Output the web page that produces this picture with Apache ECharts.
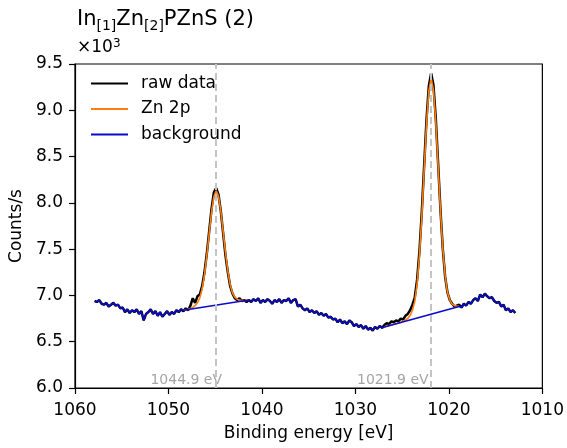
<!DOCTYPE html>
<html><head><meta charset="utf-8">
<script src="https://cdn.jsdelivr.net/npm/echarts@6/dist/echarts.min.js"></script>
<style>html,body{margin:0;padding:0;background:#fff}#c{width:567px;height:448px}</style>
</head><body><div id="c"></div>
<script>
// ---- data (counts in units of 10^3 counts/s) ----
const energyStart = 1057.9;   // eV, first raw sample
const energyStep = 0.25;      // eV between samples (decreasing)
const rawCounts = [
  6.94, 6.93, 6.95, 6.91, 6.90, 6.92, 6.88, 6.90, 6.92, 6.89,
  6.90, 6.86, 6.87, 6.82, 6.85, 6.81, 6.84, 6.82, 6.85, 6.80,
  6.83, 6.73, 6.80, 6.82, 6.85, 6.80, 6.83, 6.78, 6.82, 6.77,
  6.80, 6.83, 6.79, 6.82, 6.80, 6.84, 6.82, 6.85,
  6.83, 6.86, 6.84, 6.89, 6.97, 6.92, 6.99, 7.01, 7.10, 7.25,
  7.45, 7.69, 7.93, 8.11, 8.16, 8.09, 7.91, 7.67, 7.43, 7.25,
  7.10, 7.02, 6.97, 6.95, 6.97, 6.94, 6.95, 6.93, 6.95,
  6.93, 6.96, 6.94, 6.97, 6.92, 6.95, 6.93, 6.96, 6.94, 6.91,
  6.95, 6.93, 6.96, 6.92, 6.95, 6.94, 6.97, 6.92, 6.95, 6.96,
  6.88, 6.90, 6.86, 6.84, 6.86, 6.82, 6.84, 6.81, 6.83, 6.79,
  6.81, 6.78, 6.80, 6.76, 6.77, 6.74, 6.75, 6.71, 6.74, 6.70,
  6.72, 6.69, 6.73, 6.71, 6.67, 6.69, 6.66, 6.68, 6.64, 6.67,
  6.63, 6.65, 6.62, 6.66, 6.64, 6.67, 6.65,
  6.68, 6.70, 6.69, 6.72, 6.71, 6.73, 6.72, 6.75, 6.74, 6.78,
  6.80, 6.84, 6.90, 6.98, 7.17, 7.48, 7.90, 8.40, 8.89, 9.26,
  9.40, 9.27, 8.91, 8.42, 7.92, 7.50, 7.20, 7.03, 6.95, 6.91,
  6.88, 6.89, 6.90,
  6.87, 6.91, 6.89, 6.93, 6.91, 6.95, 6.97, 6.94, 7.01, 6.98,
  7.02, 6.99, 6.97, 6.98, 6.94, 6.92, 6.93, 6.88, 6.90, 6.84,
  6.86, 6.82, 6.84, 6.81
];
const fit1Start = 1048.4;
const fit1Counts = [
  6.840, 6.845, 6.851, 6.858, 6.870, 6.889, 6.920, 6.972, 7.072, 7.223,
  7.429, 7.666, 7.896, 8.065, 8.130, 8.073, 7.912, 7.690, 7.461, 7.262,
  7.118, 7.026, 6.982, 6.960, 6.949, 6.945, 6.946, 6.947, 6.950
];
const fit2Start = 1026.9;
const fit2Counts = [
  6.660, 6.667, 6.674, 6.681, 6.688, 6.695, 6.702, 6.709, 6.720, 6.732,
  6.752, 6.782, 6.840, 6.934, 7.128, 7.434, 7.854, 8.353, 8.842, 9.208,
  9.348, 9.221, 8.869, 8.394, 7.909, 7.503, 7.211, 7.031, 6.950, 6.906,
  6.890, 6.883, 6.885
];
const background1 = [[1048.4, 6.84], [1041.4, 6.95]];
const background2 = [[1026.9, 6.66], [1018.9, 6.88]];
const peakEnergies = [1044.9, 1021.9];
const peakLabels = ['1044.9 eV', '1021.9 eV'];
const peakLabelAnchors = [1044.0, 1021.9];  // x where each label's right edge sits
const xTicks = {min: 1010, max: 1060, interval: 10};
const yTicks = {min: 6.0, max: 9.5, interval: 0.5};

// ---- build series data ----
const eAt = (start, i) => Math.round((start - i * energyStep) * 100) / 100;
const rawData = rawCounts.map((v, i) => [eAt(energyStart, i), v]);
const fit1Data = fit1Counts.map((v, i) => [eAt(fit1Start, i), v]);
const fit2Data = fit2Counts.map((v, i) => [eAt(fit2Start, i), v]);
const bgData = [];
rawData.forEach(p => { if (p[0] > background1[0][0] + 1e-6) bgData.push(p); });
background1.forEach(p => bgData.push(p));
rawData.forEach(p => { if (p[0] < background1[1][0] - 1e-6 && p[0] > background2[0][0] + 1e-6) bgData.push(p); });
background2.forEach(p => bgData.push(p));
rawData.forEach(p => { if (p[0] < background2[1][0] - 1e-6) bgData.push(p); });

const FONT = 'DejaVu Sans';
const chart = echarts.init(document.getElementById('c'), null, {renderer: 'canvas'});
chart.setOption({
  animation: false,
  backgroundColor: '#fff',
  title: [{
    left: 77, top: 7, padding: 0,
    text: '{m|In}{s|[1]}{m|Zn}{s|[2]}{m|PZnS (2)}',
    textStyle: {
      fontWeight: 'normal',
      rich: {
        m: {fontSize: 21, lineHeight: 26, fontFamily: FONT, fontWeight: 'normal', color: '#000'},
        s: {fontSize: 14, lineHeight: 18, verticalAlign: 'bottom', fontFamily: FONT, fontWeight: 'normal', color: '#000'}
      }
    }
  }, {
    left: 77, top: 38, padding: 0,
    text: '{m|×10}{p|3}',
    textStyle: {
      fontWeight: 'normal',
      rich: {
        m: {fontSize: 17, lineHeight: 20, fontFamily: FONT, fontWeight: 'normal', color: '#000'},
        p: {fontSize: 12, lineHeight: 12, verticalAlign: 'top', fontFamily: FONT, fontWeight: 'normal', color: '#000'}
      }
    }
  }],
  legend: {
    orient: 'vertical', left: 90, top: 75, padding: 0,
    itemWidth: 37, itemHeight: 17, itemGap: 8.5,
    itemStyle: {opacity: 0},
    data: ['raw data', 'Zn 2p', 'background'],
    textStyle: {fontSize: 17, fontFamily: FONT, color: '#000', padding: [0, 0, 0, 8]}
  },
  grid: {left: 75, right: 24, top: 64, bottom: 60, show: true, borderColor: '#000', borderWidth: 1.2, backgroundColor: 'transparent'},
  xAxis: {
    type: 'value', inverse: true, min: xTicks.min, max: xTicks.max, interval: xTicks.interval,
    axisLine: {show: true, lineStyle: {color: '#000', width: 1.2}},
    axisTick: {show: true, length: 6, lineStyle: {color: '#000', width: 1.2}},
    axisLabel: {fontSize: 17, fontFamily: FONT, color: '#000', margin: 14, formatter: v => String(v)},
    splitLine: {show: false},
    name: 'Binding energy [eV]', nameLocation: 'middle', nameGap: 37,
    nameTextStyle: {fontSize: 17, fontFamily: FONT, color: '#000'}
  },
  yAxis: {
    type: 'value', min: yTicks.min, max: yTicks.max, interval: yTicks.interval,
    axisLine: {show: true, lineStyle: {color: '#000', width: 1.2}},
    axisTick: {show: true, length: 6, lineStyle: {color: '#000', width: 1.2}},
    axisLabel: {fontSize: 17, fontFamily: FONT, color: '#000', margin: 12, formatter: v => v.toFixed(1)},
    splitLine: {show: false},
    name: 'Counts/s', nameLocation: 'middle', nameGap: 37, nameRotate: 90,
    nameTextStyle: {fontSize: 17, fontFamily: FONT, color: '#000'}
  },
  series: [
    {
      name: 'guides', type: 'line', data: [], z: 1, silent: true,
      markLine: {
        silent: true, symbol: ['none', 'none'], label: {show: false},
        lineStyle: {color: '#c4c4c4', width: 2, type: [7, 4]},
        data: peakEnergies.map(e => ({xAxis: e}))
      }
    },
    {
      name: 'peak labels', type: 'scatter', z: 1, silent: true, symbolSize: 1,
      itemStyle: {color: 'rgba(0,0,0,0)'},
      data: peakLabelAnchors.map(e => [e, yTicks.min + 0.08]),
      label: {show: true, position: 'left', distance: 2, color: '#8f8f8f', fontSize: 14, fontFamily: FONT,
        formatter: p => peakLabels[p.dataIndex]}
    },
    {name: 'raw data', type: 'line', data: rawData, z: 2, symbol: 'none', showSymbol: false,
      lineStyle: {color: '#000', width: 2.5}, itemStyle: {color: '#000'}},
    {name: 'Zn 2p', type: 'line', data: fit1Data, z: 3, symbol: 'none', showSymbol: false,
      lineStyle: {color: '#ff7f0e', width: 1.6}, itemStyle: {color: '#ff7f0e'}},
    {name: 'Zn 2p', type: 'line', data: fit2Data, z: 3, symbol: 'none', showSymbol: false,
      lineStyle: {color: '#ff7f0e', width: 1.6}, itemStyle: {color: '#ff7f0e'}},
    {name: 'background', type: 'line', data: bgData, z: 4, symbol: 'none', showSymbol: false,
      lineStyle: {color: '#0b0bcc', width: 1.6}, itemStyle: {color: '#0b0bcc'}}
  ]
});
</script>
</body></html>
